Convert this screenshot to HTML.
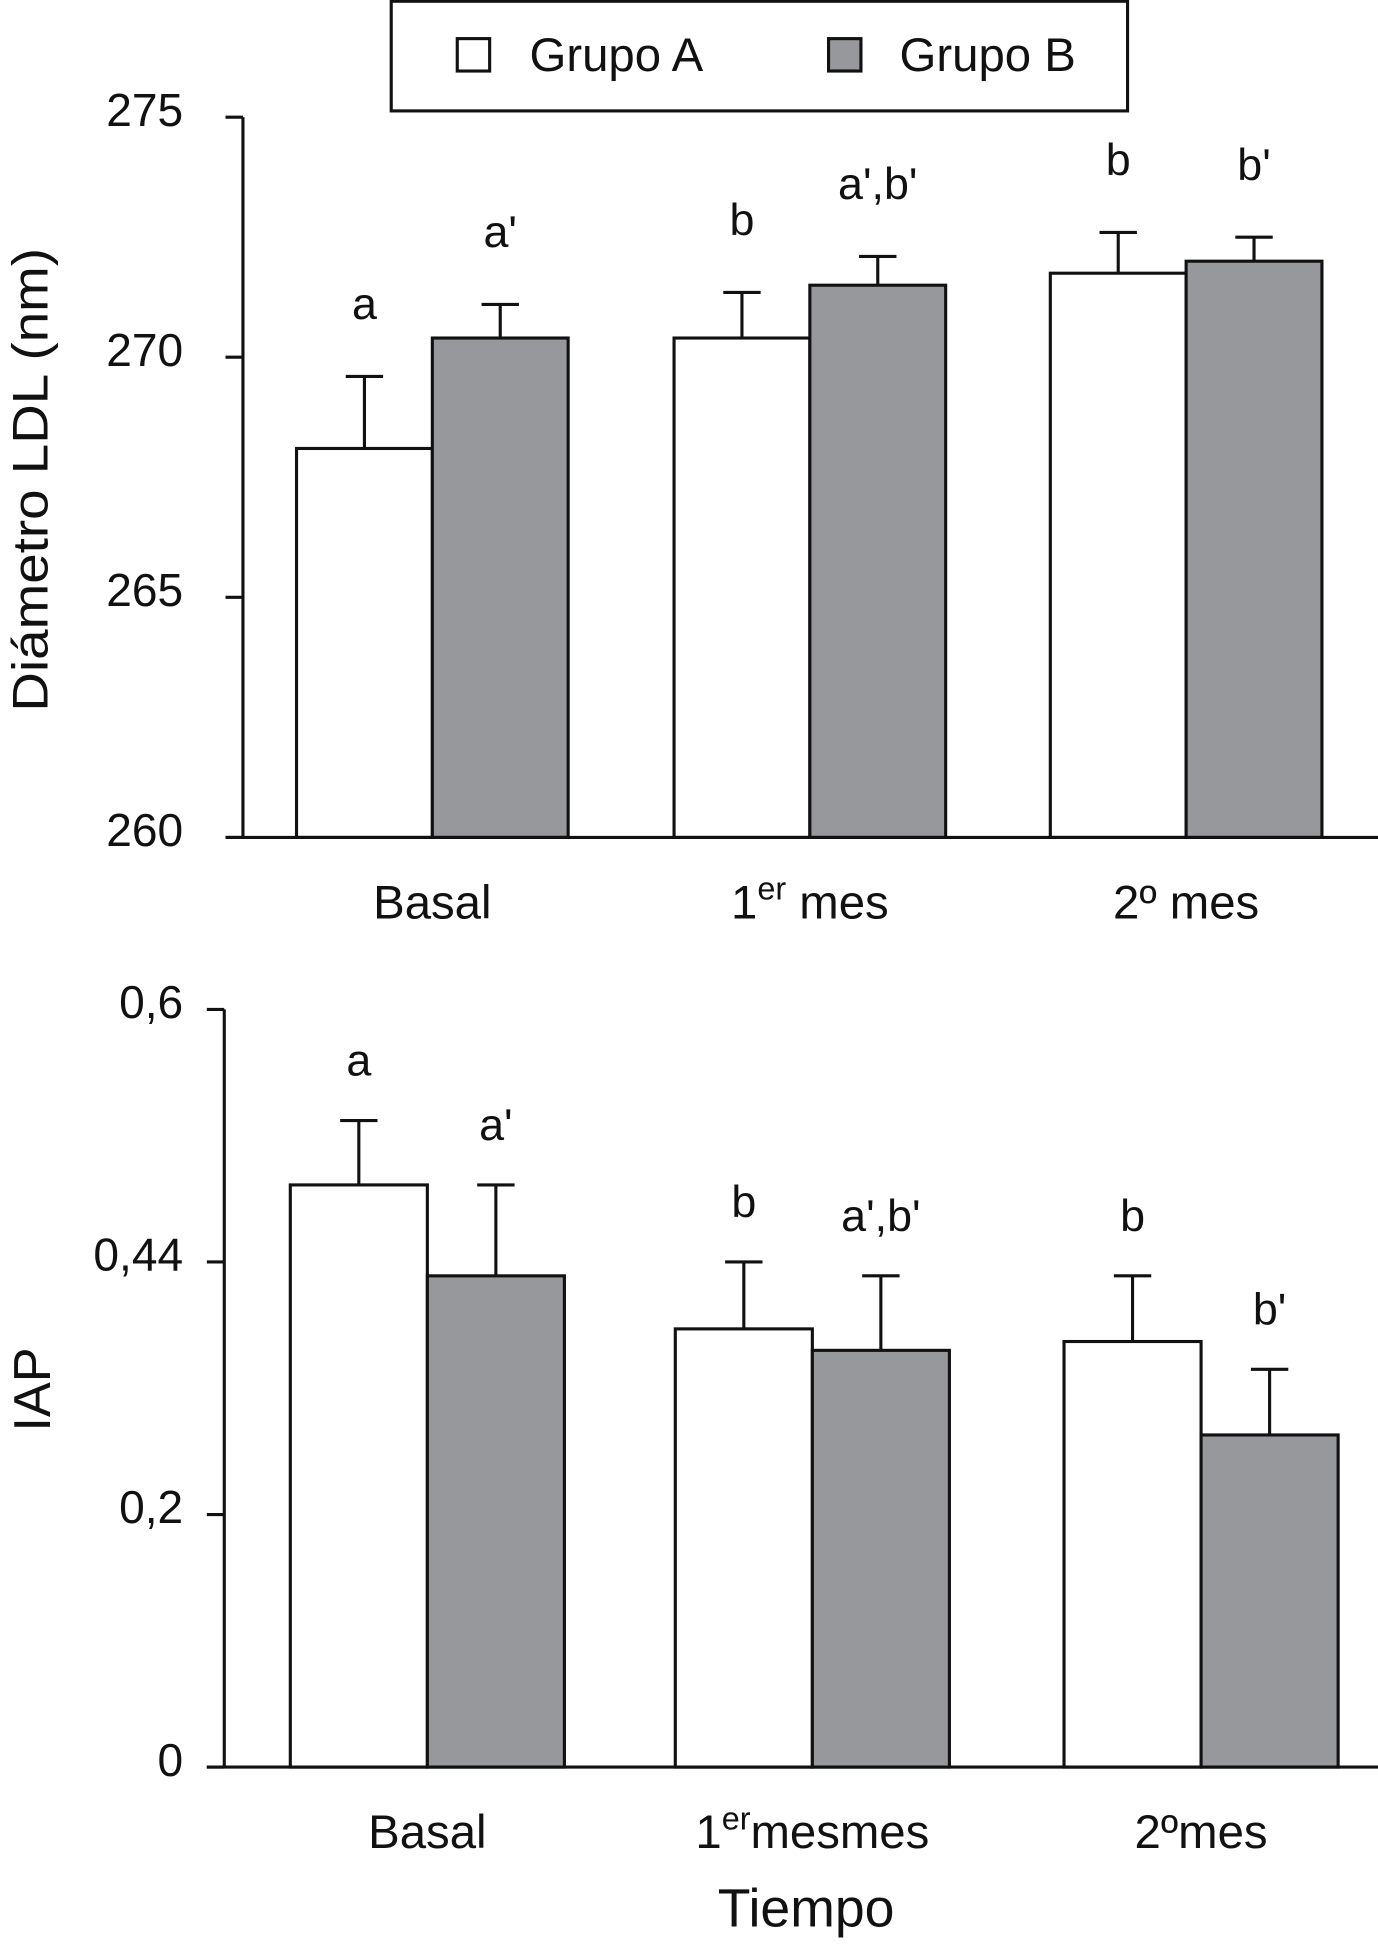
<!DOCTYPE html>
<html><head><meta charset="utf-8"><style>
html,body{margin:0;padding:0;background:#fff;}
svg{display:block;font-family:"Liberation Sans",sans-serif;}
</style></head><body>
<svg id="chart" width="1378" height="1954" viewBox="0 0 1106 1568" preserveAspectRatio="none" xmlns="http://www.w3.org/2000/svg">
<g>
<rect x="314" y="1" width="591" height="88" fill="#fff" stroke="#111" stroke-width="2.5"/>
<rect x="367" y="31" width="26" height="26" fill="#fff" stroke="#111" stroke-width="2.5"/>
<text x="425" y="57" font-size="38" fill="#111">Grupo A</text>
<rect x="665" y="31" width="26" height="26" fill="#97989b" stroke="#111" stroke-width="2.5"/>
<text x="722" y="57" font-size="38" fill="#111">Grupo B</text>
</g>
<g id="top"></g>
<g id="bot"></g>
<text transform="translate(38,385) rotate(-90)" text-anchor="middle" font-size="40" fill="#111" textLength="372" lengthAdjust="spacingAndGlyphs">Diámetro LDL (nm)</text>
<text transform="translate(40,1115) rotate(-90)" text-anchor="middle" font-size="42" fill="#111">IAP</text>
<text x="647" y="1546" text-anchor="middle" font-size="43" fill="#111">Tiempo</text>
</svg>
<script>
const NS='http://www.w3.org/2000/svg';
const categories=['Basal','1er mes','2º mes'];
const ldlA=[268.1,270.4,271.75];
const ldlB=[270.4,271.5,272.0];
const ldlErrA=[1.5,0.95,0.85];
const ldlErrB=[0.7,0.6,0.5];
const ldlLetA=['a','b','b'];
const ldlLetB=["a'","a',b'","b'"];
const ldlTicks=[260,265,270,275];
const ldlTickLabels=['260','265','270','275'];
const iapA=[0.461,0.347,0.337];
const iapB=[0.389,0.330,0.263];
const iapErrA=[0.051,0.053,0.052];
const iapErrB=[0.072,0.059,0.052];
const iapLetA=['a','b','b'];
const iapLetB=["a'","a',b'","b'"];
const iapTicks=[0,0.2,0.4,0.6];
const iapTickLabels=['0','0,2','0,44','0,6'];

function mk(tag,attrs,parent,txt){const e=document.createElementNS(NS,tag);for(const k in attrs)e.setAttribute(k,attrs[k]);if(txt!==undefined)e.textContent=txt;parent.appendChild(e);return e;}

function draw(g,cfg){
  const y=v=>cfg.y0-(v-cfg.min)/(cfg.max-cfg.min)*(cfg.y0-cfg.y1);
  const ax=mk('line',{x1:cfg.ax,y1:cfg.y1,x2:cfg.ax,y2:cfg.y0,stroke:'#111','stroke-width':2.5},g);
  
  
  cfg.ticks.forEach((t,i)=>{
    const tl=mk('line',{x1:cfg.ax-14,y1:y(t),x2:cfg.ax,y2:y(t),stroke:'#111','stroke-width':2.5},g);
    
    
    const tx=mk('text',{x:cfg.ax-cfg.tOff,y:y(t)+7,'text-anchor':'end','font-size':37,fill:'#111'},g,cfg.tickLabels[i]);
    
    
  });
  const bw=cfg.bw;
  cfg.starts.forEach((x0,i)=>{
    [[cfg.A,cfg.eA,cfg.lA,'#fff',x0],[cfg.B,cfg.eB,cfg.lB,'#97989b',x0+bw]].forEach((s,j)=>{
      const v=s[0][i],e=s[1][i],xx=s[4];
      const cx=xx+bw/2, top=y(v), et=y(v+e);
      const el=mk('line',{x1:cx,y1:top,x2:cx,y2:et,stroke:'#111','stroke-width':2.5},g);
      
      
      const ec=mk('line',{x1:cx-15,y1:et,x2:cx+15,y2:et,stroke:'#111','stroke-width':2.5},g);
      
      
      const r=mk('rect',{x:xx,y:top,width:bw,height:cfg.y0-top,fill:s[3],stroke:'#111','stroke-width':2.5},g);
      
      
      const lt=mk('text',{x:cx,y:et-cfg.lOff,'text-anchor':'middle','font-size':36,fill:'#111'},g,s[2][i]);
      
      
    });
    const c=mk('text',{x:x0+bw,y:cfg.y0+65,'text-anchor':'middle','font-size':38,fill:'#111'},g);
    
    
    const lab=cfg.cats[i];
    if(lab.startsWith('1er')){
      c.appendChild(document.createTextNode('1'));
      mk('tspan',{'font-size':26,dy:-15},c,'er');
      mk('tspan',{dy:15},c,cfg.sep+'mes'+cfg.extra);
    } else if(lab.startsWith('2º')) c.textContent='2º'+cfg.sep+'mes';
    else c.textContent=lab;
  });
  const xl=mk('line',{x1:cfg.ax-14,y1:cfg.y0,x2:cfg.xr,y2:cfg.y0,stroke:'#111','stroke-width':2.5},g);
  
  
}
draw(document.getElementById('top'),{min:260,max:275,y0:672,y1:94,ax:195,xr:1106,bw:109,starts:[238,541,843],tOff:48,
  A:ldlA,B:ldlB,eA:ldlErrA,eB:ldlErrB,lA:ldlLetA,lB:ldlLetB,ticks:ldlTicks,tickLabels:ldlTickLabels,cats:categories,lOff:46,sep:' ',extra:''});
draw(document.getElementById('bot'),{min:0,max:0.6,y0:1418,y1:810,ax:180,xr:1106,bw:110,starts:[233,542,854],tOff:33,
  A:iapA,B:iapB,eA:iapErrA,eB:iapErrB,lA:iapLetA,lB:iapLetB,ticks:iapTicks,tickLabels:iapTickLabels,cats:categories,lOff:36,sep:'',extra:'mes'});
</script>
</body></html>
